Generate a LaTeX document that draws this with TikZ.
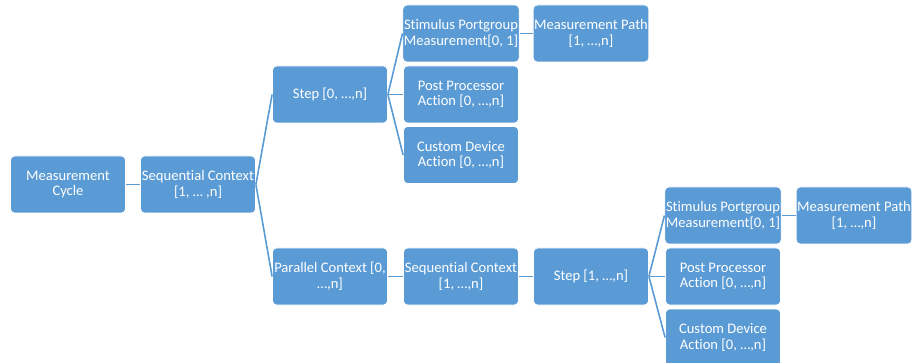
\documentclass[tikz,border=0pt]{standalone}
\usepackage{fontspec}
\setmainfont[Ligatures=NoCommon]{Carlito}
\usepackage{xcolor}
\usetikzlibrary{positioning}
\definecolor{boxblue}{RGB}{91,155,213}
\tikzset{
  box/.style={rectangle, draw=white, line width=0.8pt, fill=boxblue, text=white, minimum width=115pt, minimum height=57pt, inner sep=1pt, align=center, rounded corners=4pt, font=\fontsize{14.6}{15.6}\selectfont},
  link/.style={draw=boxblue, line width=1.6pt},
}
\begin{document}
\begin{tikzpicture}[x=1pt, y=-1pt]
  \useasboundingbox (0,0) rectangle (912,363);
  % upper branch
  \node[box] (cycle) at (68, 184.5) {Measurement\\Cycle};
  \node[box] (seqA) at (198, 184.5) {Sequential Context\\{}[1, \dots\ ,n]};
  \node[box] (stepA) at (330, 94.5) {Step [0, \dots,n]};
  \node[box] (stimA) at (461, 33.5) {Stimulus Portgroup\\Measurement[0, 1]};
  \node[box] (pathA) at (591, 33.5) {Measurement Path\\{}[1, \dots,n]};
  \node[box] (postA) at (461, 94.5) {Post Processor\\Action [0, \dots,n]};
  \node[box] (custA) at (461, 155) {Custom Device\\Action [0, \dots,n]};
  % lower branch
  \node[box] (par) at (330, 276.5) {Parallel Context [0,\\\dots,n]};
  \node[box] (seqB) at (461, 276.5) {Sequential Context\\{}[1, \dots,n]};
  \node[box] (stepB) at (591, 276.5) {Step [1, \dots,n]};
  \node[box] (stimB) at (723, 215.5) {Stimulus Portgroup\\Measurement[0, 1]};
  \node[box] (pathB) at (854, 215.5) {Measurement Path\\{}[1, \dots,n]};
  \node[box] (postB) at (723, 276.5) {Post Processor\\Action [0, \dots,n]};
  \node[box] (custB) at (723, 337.5) {Custom Device\\Action [0, \dots,n]};
  % connectors
  \draw[link] (cycle.east) -- (seqA.west);
  \draw[link] (seqA.east) -- (stepA.west);
  \draw[link] (seqA.east) -- (par.west);
  \draw[link] (stepA.east) -- (stimA.west);
  \draw[link] (stepA.east) -- (postA.west);
  \draw[link] (stepA.east) -- (custA.west);
  \draw[link] (stimA.east) -- (pathA.west);
  \draw[link] (par.east) -- (seqB.west);
  \draw[link] (seqB.east) -- (stepB.west);
  \draw[link] (stepB.east) -- (stimB.west);
  \draw[link] (stepB.east) -- (postB.west);
  \draw[link] (stepB.east) -- (custB.west);
  \draw[link] (stimB.east) -- (pathB.west);
\end{tikzpicture}
\end{document}
